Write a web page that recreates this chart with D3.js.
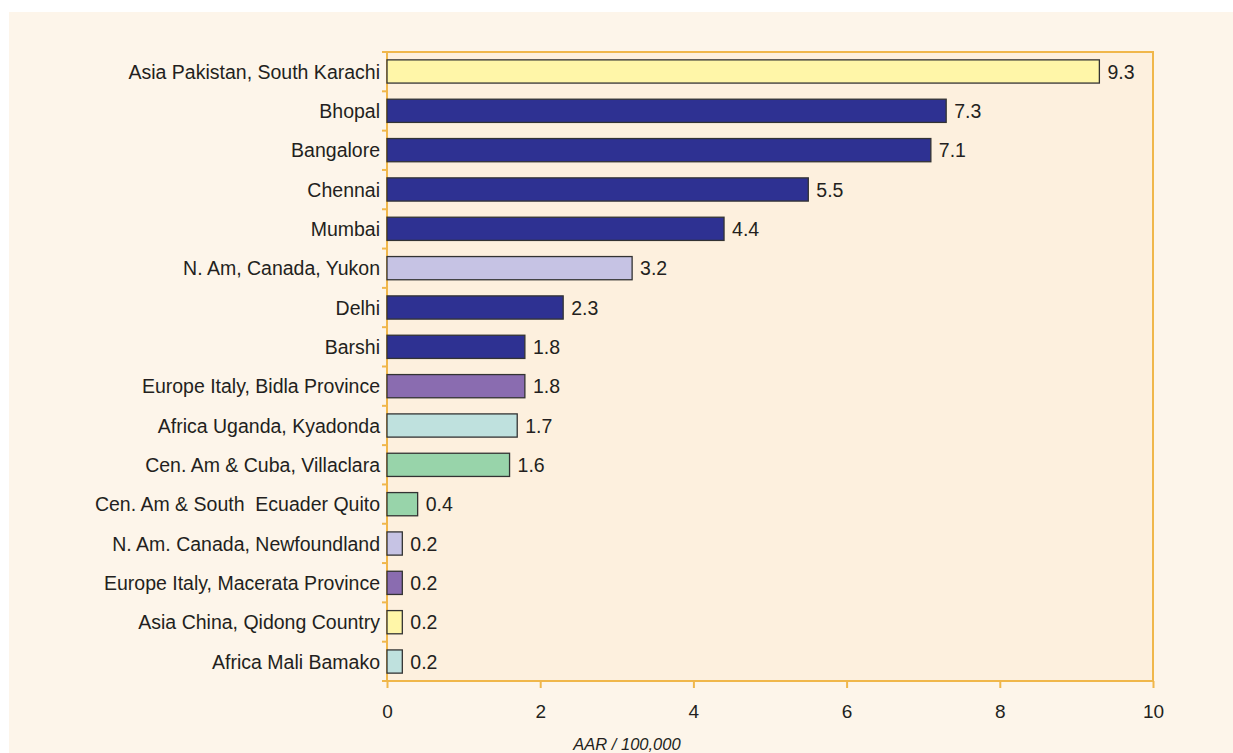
<!DOCTYPE html>
<html>
<head>
<meta charset="utf-8">
<script src="https://cdn.jsdelivr.net/npm/d3@7"></script>
<style>
  body { margin: 0; background: #fff; }
  svg { display: block; font-family: "Liberation Sans", Arial, sans-serif; }
</style>
</head>
<body>
<svg id="chart" width="1233" height="753"></svg>
<script>
// data, top to bottom as drawn
const places = [
  "Asia Pakistan, South Karachi", "Bhopal", "Bangalore", "Chennai", "Mumbai",
  "N. Am, Canada, Yukon", "Delhi", "Barshi", "Europe Italy, Bidla Province",
  "Africa Uganda, Kyadonda", "Cen. Am & Cuba, Villaclara", "Cen. Am & South  Ecuader Quito",
  "N. Am. Canada, Newfoundland", "Europe Italy, Macerata Province",
  "Asia China, Qidong Country", "Africa Mali Bamako"
];
const rates = [9.3, 7.3, 7.1, 5.5, 4.4, 3.2, 2.3, 1.8, 1.8, 1.7, 1.6, 0.4, 0.2, 0.2, 0.2, 0.2];
const regions = [
  "Asia", "India", "India", "India", "India", "NAm", "India", "India", "Europe",
  "Africa", "CenAm", "CenAm", "NAm", "Europe", "Asia", "Africa"
];
const xTicks = [0, 2, 4, 6, 8, 10];

const regionColor = d3.scaleOrdinal()
  .domain(["Asia", "India", "NAm", "Europe", "Africa", "CenAm"])
  .range(["#fff6a8", "#2e3192", "#c6c3e4", "#8a6cb0", "#bfe1de", "#98d4aa"]);

const svg = d3.select("#chart"),
  margin = { top: 52, right: 80, bottom: 72, left: 387 },
  width = +svg.attr("width") - margin.left - margin.right,
  height = +svg.attr("height") - margin.top - margin.bottom;

// panel
svg.append("rect")
  .attr("x", 9).attr("y", 12)
  .attr("width", 1300).attr("height", 800)
  .attr("fill", "#fdf5ea");

const g = svg.append("g")
  .attr("transform", `translate(${margin.left},${margin.top})`);

g.append("rect")
  .attr("width", width).attr("height", height)
  .attr("fill", "#fdf0de")
  .attr("stroke", "#f0b74b")
  .attr("stroke-width", 2);

const x = d3.scaleLinear().domain([0, 10]).range([0, width]);
const y = d3.scaleBand().domain(places).range([0, height]).paddingInner(0.41).paddingOuter(0.2);

// bars
g.selectAll(".bar")
  .data(places)
  .join("rect")
  .attr("class", "bar")
  .attr("x", 0)
  .attr("y", d => y(d))
  .attr("width", (d, i) => x(rates[i]))
  .attr("height", y.bandwidth())
  .attr("fill", (d, i) => regionColor(regions[i]))
  .attr("stroke", "#333")
  .attr("stroke-width", 1.3);

// value labels
g.selectAll(".val")
  .data(places)
  .join("text")
  .attr("class", "val")
  .attr("x", (d, i) => x(rates[i]) + 8)
  .attr("y", d => y(d) + y.bandwidth() / 2)
  .attr("dy", "0.37em")
  .attr("font-size", 19.5)
  .attr("fill", "#231f20")
  .text((d, i) => rates[i].toFixed(1));

// category labels
g.selectAll(".cat")
  .data(places)
  .join("text")
  .attr("class", "cat")
  .attr("x", -7)
  .attr("y", d => y(d) + y.bandwidth() / 2)
  .attr("dy", "0.37em")
  .attr("text-anchor", "end")
  .attr("font-size", 19.5)
  .attr("fill", "#231f20")
  .style("white-space", "pre")
  .text(d => d);

// y ticks between categories
const step = height / places.length;
g.selectAll(".ytick")
  .data(d3.range(places.length + 1))
  .join("line")
  .attr("x1", -5).attr("x2", 0)
  .attr("y1", d => d * step).attr("y2", d => d * step)
  .attr("stroke", "#f0b74b").attr("stroke-width", 2);

// x axis
const xAxis = g.append("g")
  .attr("transform", `translate(0,${height})`)
  .call(d3.axisBottom(x).tickValues(xTicks).tickSize(7).tickPadding(17));
xAxis.select(".domain").remove();
xAxis.selectAll("line").attr("stroke", "#f0b74b").attr("stroke-width", 2);
xAxis.selectAll("text")
  .attr("font-size", 19)
  .attr("font-family", "Liberation Sans, Arial, sans-serif")
  .attr("fill", "#231f20");

svg.append("text")
  .attr("x", 627).attr("y", 750)
  .attr("text-anchor", "middle")
  .attr("font-size", 16.5)
  .attr("font-style", "italic")
  .attr("fill", "#231f20")
  .text("AAR / 100,000");
</script>
</body>
</html>
